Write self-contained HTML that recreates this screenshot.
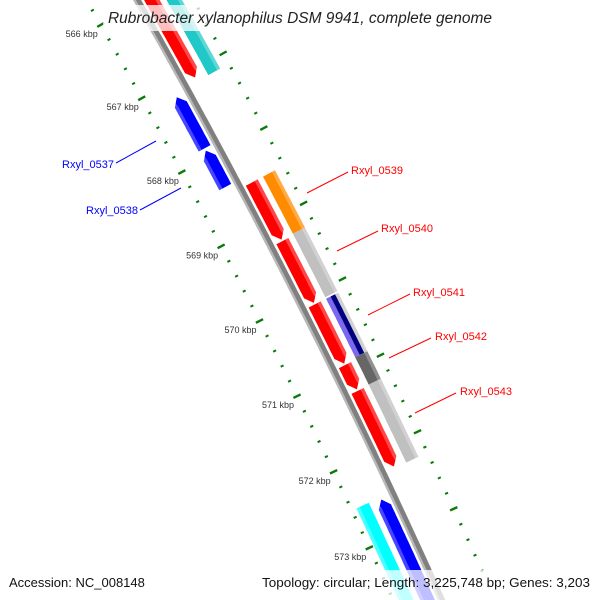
<!DOCTYPE html>
<html><head><meta charset="utf-8"><style>
html,body{margin:0;padding:0;background:#fff;width:600px;height:600px;overflow:hidden}
svg{display:block;font-family:"Liberation Sans",sans-serif;overflow:hidden}
</style></head><body>
<svg id="map" width="600" height="600" viewBox="0 0 600 600" xmlns="http://www.w3.org/2000/svg">
<g id="rulers"></g>
<g id="backbone"></g>
<g id="features"></g>
<g font-size="11">
  <line x1="116" y1="163" x2="156" y2="141" stroke="#0000ff"/>
  <text x="114" y="168" text-anchor="end" fill="#0000ff">Rxyl_0537</text>
  <line x1="140" y1="210" x2="181" y2="188" stroke="#0000ff"/>
  <text x="138" y="214" text-anchor="end" fill="#0000ff">Rxyl_0538</text>
  <line x1="307" y1="193" x2="348" y2="172" stroke="#ff0000"/>
  <text x="351" y="174" fill="#ff0000">Rxyl_0539</text>
  <line x1="337" y1="251" x2="378" y2="231" stroke="#ff0000"/>
  <text x="381" y="232" fill="#ff0000">Rxyl_0540</text>
  <line x1="368" y1="315" x2="410" y2="294" stroke="#ff0000"/>
  <text x="413" y="296" fill="#ff0000">Rxyl_0541</text>
  <line x1="389" y1="358" x2="431" y2="338" stroke="#ff0000"/>
  <text x="435" y="340" fill="#ff0000">Rxyl_0542</text>
  <line x1="415" y1="413" x2="456" y2="393" stroke="#ff0000"/>
  <text x="460" y="395" fill="#ff0000">Rxyl_0543</text>
</g>
<rect x="103" y="5" width="394" height="26" fill="#fff" opacity="0.75"/>
<text x="108" y="23" textLength="384" lengthAdjust="spacingAndGlyphs" font-size="15.5" font-style="italic" fill="#222">Rubrobacter xylanophilus DSM 9941, complete genome</text>
<rect x="0" y="570" width="600" height="30" fill="#fff" opacity="0.75"/>
<text x="9" y="587" font-size="13" fill="#111">Accession: NC_008148</text>
<text x="262" y="587" textLength="328" lengthAdjust="spacingAndGlyphs" font-size="13" fill="#111">Topology: circular; Length: 3,225,748 bp; Genes: 3,203</text>
</svg>
<script>
// data (kbp)
const featStart  = [565.5, 568.50, 569.28, 570.12, 570.92, 571.26, 565.5, 568.50, 569.26, 570.12, 570.89, 571.25, 567.19, 567.91, 572.54, 572.51];
const featEnd    = [567.09, 569.26, 570.10, 570.90, 571.24, 572.25, 567.14, 569.26, 570.10, 570.89, 571.25, 572.27, 567.88, 568.40, 575.0, 575.0];
const featStrand = [1, 1, 1, 1, 1, 1, 0, 0, 0, 0, 0, 0, -1, -1, -1, 0];
const featRing   = [1, 1, 1, 1, 1, 1, 2, 2, 2, 2, 2, 2, -1, -1, -1, -2];
const featNames  = ["gene-a","gene-b","gene-c","gene-d","gene-e","gene-f","gene-g","rxyl-0539","rxyl-0540","rxyl-0541","rxyl-0542","rxyl-0543","rxyl-0537","rxyl-0538","gene-h","gene-i"];
const featColor  = ["#ff0000","#ff0000","#ff0000","#ff0000","#ff0000","#ff0000","#20c8c8","#ff8c00","#c0c0c0","#c0c0c0","#666666","#c0c0c0","#0000ff","#0000ff","#0000ff","#00ffff"];
const tickMin = 565.6, tickMax = 574.4, tickStep = 0.2;
const majorTicks = [566, 567, 568, 569, 570, 571, 572, 573];
const tickLabels = ["566 kbp","567 kbp","568 kbp","569 kbp","570 kbp","571 kbp","572 kbp","573 kbp"];

// axis / geometry
const NS = "http://www.w3.org/2000/svg";
const RI = 7119, CX = -6092, CY = 3536.4, PHI0 = Math.atan2(-0.4726, 0.8813), DPHI = 0.0118;
const BB = 44;
const RING = {1:[6,19.5], 2:[25.5,39], "-1":[-19.5,-6], "-2":[-39,-25.5]};
function P(kb, v){ const phi = PHI0 + (kb - 568) * DPHI; const r = RI + BB + v; return [CX + r*Math.cos(phi), CY + r*Math.sin(phi)]; }
function arc(s, e, v){ const n = Math.max(2, Math.ceil(Math.abs(e - s) / 0.05)); const pts = []; for (let i = 0; i <= n; i++) pts.push(P(s + (e - s) * i / n, v)); return pts; }
function fmt(pts){ return pts.map(p => p[0].toFixed(1) + "," + p[1].toFixed(1)).join(" "); }
function shape(s, e, v0, v1, strand){
  const h = 0.1; let a = s, b = e;
  if (strand > 0) b = Math.max(s, e - h);
  if (strand < 0) a = Math.min(e, s + h);
  let pts = arc(a, b, v1);
  if (strand > 0) pts.push(P(e, (v0 + v1) / 2));
  pts = pts.concat(arc(b, a, v0));
  if (strand < 0) pts.push(P(s, (v0 + v1) / 2));
  return fmt(pts);
}
function mk(tag, attrs, parent){ const el = document.createElementNS(NS, tag); for (const k in attrs) el.setAttribute(k, attrs[k]); parent.appendChild(el); return el; }

// rulers
const rulers = document.getElementById("rulers");
[-BB, 49].forEach(function(v, ri){
  const n = Math.round((tickMax - tickMin) / tickStep);
  for (let i = 0; i <= n; i++) {
    const kb = tickMin + i * tickStep;
    const major = majorTicks.some(m => Math.abs(m - kb) < 1e-6);
    const len = major ? 4 : 1.6;
    const a = P(kb, v - len), b = P(kb, v + len);
    const t = mk("line", {x1:a[0], y1:a[1], x2:b[0], y2:b[1], stroke:"#0a7a0a", "stroke-width": major ? 2.4 : 2}, rulers);
    
    
  }
});
majorTicks.forEach(function(kb, i){
  const p = P(kb, -BB);
  const t = mk("text", {x: p[0] - 3, y: p[1] + 12, "text-anchor":"end", "font-size":"9", fill:"#333"}, rulers);
  t.textContent = tickLabels[i];
  
  
});

// backbone
const bbg = document.getElementById("backbone");
const bb1 = mk("polygon", {points: shape(565, 575.5, -3.5, 3.5, 0), fill:"#808080"}, bbg);


const bb2 = mk("polygon", {points: shape(565, 575.5, -3.5, -1.2, 0), fill:"#b8b8b8"}, bbg);



// features
const fg = document.getElementById("features");
for (let i = 0; i < featStart.length; i++) {
  const r = RING[featRing[i]];
  const g = mk("g", {}, fg);
  
  
  const body = mk("polygon", {points: shape(featStart[i], featEnd[i], r[0], r[1], featStrand[i]), fill: featColor[i]}, g);
  
  
  if (featNames[i] === "rxyl-0541") {
    const s1 = mk("polygon", {points: shape(featStart[i], featEnd[i], r[0], r[0] + 5, 0), fill:"#7b68ee"}, g);
    
    
    const s2 = mk("polygon", {points: shape(featStart[i], featEnd[i], r[0] + 5, r[0] + 10, 0), fill:"#000080"}, g);
    
    
  }
  const hv0 = featRing[i] > 0 ? r[1] - 3.5 : r[0];
  const hv1 = featRing[i] > 0 ? r[1] : r[0] + 3.5;
  const hl = mk("polygon", {points: shape(featStart[i], featEnd[i], hv0, hv1, featStrand[i]), fill:"#ffffff", opacity:"0.28"}, g);
  
  
}
</script>
</body></html>
